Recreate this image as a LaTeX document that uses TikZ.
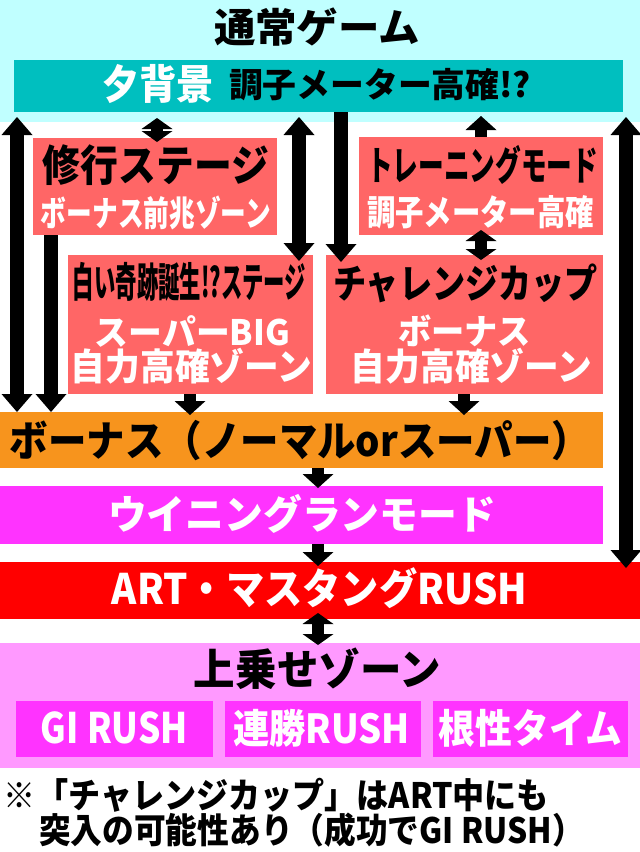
\documentclass[tikz,border=0pt]{standalone}
\usepackage{fontspec}
\setmainfont{Noto Sans CJK JP}[BoldFont={Noto Sans CJK JP Black}]
\usetikzlibrary{arrows.meta,calc}
\definecolor{cyanbg}{HTML}{C0FFFF}
\definecolor{tealbar}{HTML}{00BFBF}
\definecolor{salmon}{HTML}{FF6666}
\definecolor{orng}{HTML}{F7941D}
\definecolor{mag}{HTML}{FF33FF}
\definecolor{redd}{HTML}{FF0000}
\definecolor{pinkbg}{HTML}{FF99FF}
\newcommand\fw[3]{\resizebox{#2pt}{\height}{\fontsize{#1pt}{#1pt}\selectfont\bfseries #3}}
\begin{document}
\begin{tikzpicture}[x=1pt,y=-1pt,
  area/.style={draw=none,inner sep=0pt,outer sep=0pt,anchor=center},
  txt/.style={inner sep=0pt,outer sep=0pt,anchor=center},
  blk/.style={txt,text=black},
  wht/.style={txt,text=white},
  longd/.style={line width=14pt,{Triangle[width=31pt,length=18pt,line width=0pt]}-{Triangle[width=31pt,length=18pt,line width=0pt]}},
  longs/.style={line width=14pt,-{Triangle[width=31pt,length=18pt,line width=0pt]}},
  shorts/.style={line width=12pt,-{Triangle[width=31pt,length=14pt,line width=0pt]}},
  shortd/.style={line width=12pt,{Triangle[width=31pt,length=11pt,line width=0pt]}-{Triangle[width=31pt,length=11pt,line width=0pt]}}
]
\useasboundingbox (0,0) rectangle (640,852);
\fill[white] (0,0) rectangle (640,852);
% areas
\node[area,fill=cyanbg,minimum width=640pt,minimum height=122pt] (topbg) at (320,61) {};
\node[area,fill=tealbar,minimum width=609pt,minimum height=52pt] (teal) at (318.5,86) {};
\node[area,fill=salmon,minimum width=244pt,minimum height=97pt] (shugyo) at (155,186.5) {};
\node[area,fill=salmon,minimum width=244pt,minimum height=98pt] (training) at (481,186) {};
\node[area,fill=salmon,minimum width=245pt,minimum height=139pt] (shiroi) at (190.5,324.5) {};
\node[area,fill=salmon,minimum width=277pt,minimum height=139pt] (challenge) at (464.5,324.5) {};
\node[area,fill=orng,minimum width=603pt,minimum height=56pt] (bonus) at (301.5,440) {};
\node[area,fill=mag,minimum width=603pt,minimum height=58pt] (winning) at (301.5,515) {};
\node[area,fill=redd,minimum width=640pt,minimum height=57pt] (art) at (320,590.5) {};
\node[area,fill=pinkbg,minimum width=640pt,minimum height=125pt] (uwanose) at (320,705.5) {};
\node[area,fill=mag,minimum width=197pt,minimum height=56pt] (gi) at (114.5,729) {};
\node[area,fill=mag,minimum width=196pt,minimum height=56pt] (renshou) at (323,729) {};
\node[area,fill=mag,minimum width=195pt,minimum height=56pt] (konjou) at (530.5,729) {};
% texts
\node[blk] (t1) at (317,27.5) {\fw{40}{206}{通常ゲーム}};
\node[wht] (t2) at (158,84) {\fw{41}{112}{夕背景}};
\node[blk] (t3) at (380,85) {\fw{34}{302}{調子メーター高確!?}};
\node[blk] (t4) at (156,165) {\fw{43}{226}{修行ステージ}};
\node[wht] (t5) at (156,212.5) {\fw{35}{230}{ボーナス前兆ゾーン}};
\node[blk] (t6) at (482.5,164.5) {\fw{40}{231}{トレーニングモード}};
\node[wht] (t7) at (480.5,212.5) {\fw{35}{227}{調子メーター高確}};
\node[blk] (t8) at (189.5,282) {\fw{41}{233}{白い奇跡誕生!?ステージ}};
\node[wht] (t9) at (192.5,331) {\fw{35}{195}{スーパーBIG}};
\node[wht] (t10) at (191.5,366) {\fw{37}{241}{自力高確ゾーン}};
\node[blk] (t11) at (465.5,283.5) {\fw{40}{265}{チャレンジカップ}};
\node[wht] (t12) at (464.5,331) {\fw{35}{133}{ボーナス}};
\node[wht] (t13) at (471.5,366) {\fw{37}{241}{自力高確ゾーン}};
\node[blk] (t14) at (300,441) {\fw{42}{580}{ボーナス（ノーマルorスーパー）}};
\node[wht] (t15) at (302,514) {\fw{40}{388}{ウイニングランモード}};
\node[wht] (t16) at (319.5,588) {\fw{42}{415}{ART・マスタングRUSH}};
\node[blk] (t17) at (317.5,669) {\fw{43}{247}{上乗せゾーン}};
\node[wht] (t18) at (114.5,728) {\fw{42}{147}{GI RUSH}};
\node[wht] (t19) at (321.5,728) {\fw{40}{177}{連勝RUSH}};
\node[wht] (t20) at (530.5,728) {\fw{40}{183}{根性タイム}};
\node[blk] (t21) at (276.5,795) {\fw{35}{545}{※「チャレンジカップ」はART中にも}};
\node[blk] (t22) at (311.5,830) {\fw{35}{545}{突入の可能性あり（成功でGI RUSH）}};
% arrow x positions
\coordinate (xa1) at (17,0);
\coordinate (xa2) at (51,0);
\coordinate (xa3) at (157,0);
\coordinate (xa4) at (299,0);
\coordinate (xa5) at (341,0);
\coordinate (xa6) at (481,0);
\coordinate (xa8) at (626,0);
\coordinate (xa9) at (190,0);
\coordinate (xa10) at (464,0);
\coordinate (xa11) at (318,0);
% arrows
\draw[longd] ($(topbg.south -| xa1)+(0,-5)$) -- (bonus.north -| xa1);
\draw[longs] (shugyo.south -| xa2) -- (bonus.north -| xa2);
\draw[shortd] ($(topbg.south -| xa3)+(0,-4)$) -- ($(shugyo.north -| xa3)+(0,4)$);
\draw[longd] ($(topbg.south -| xa4)+(0,-5)$) -- ($(shiroi.north -| xa4)+(0,6)$);
\draw[longs] (teal.south -| xa5) -- ($(challenge.north -| xa5)+(0,7)$);
\draw[shorts] (training.north -| xa6) -- ($(topbg.south -| xa6)+(0,-6)$);
\draw[shortd] ($(training.south -| xa6)+(0,-5)$) -- ($(challenge.north -| xa6)+(0,5)$);
\draw[longd] ($(topbg.south -| xa8)+(0,-5)$) -- ($(art.north -| xa8)+(0,6)$);
\draw[shorts] (shiroi.south -| xa9) -- ($(bonus.north -| xa9)+(0,3)$);
\draw[shorts] (challenge.south -| xa10) -- ($(bonus.north -| xa10)+(0,3)$);
\draw[shorts] (bonus.south -| xa11) -- ($(winning.north -| xa11)+(0,2)$);
\draw[shorts] (winning.south -| xa11) -- ($(art.north -| xa11)+(0,4)$);
\draw[shortd] ($(art.south -| xa11)+(0,-6)$) -- ($(uwanose.north -| xa11)+(0,2)$);
\end{tikzpicture}
\end{document}
